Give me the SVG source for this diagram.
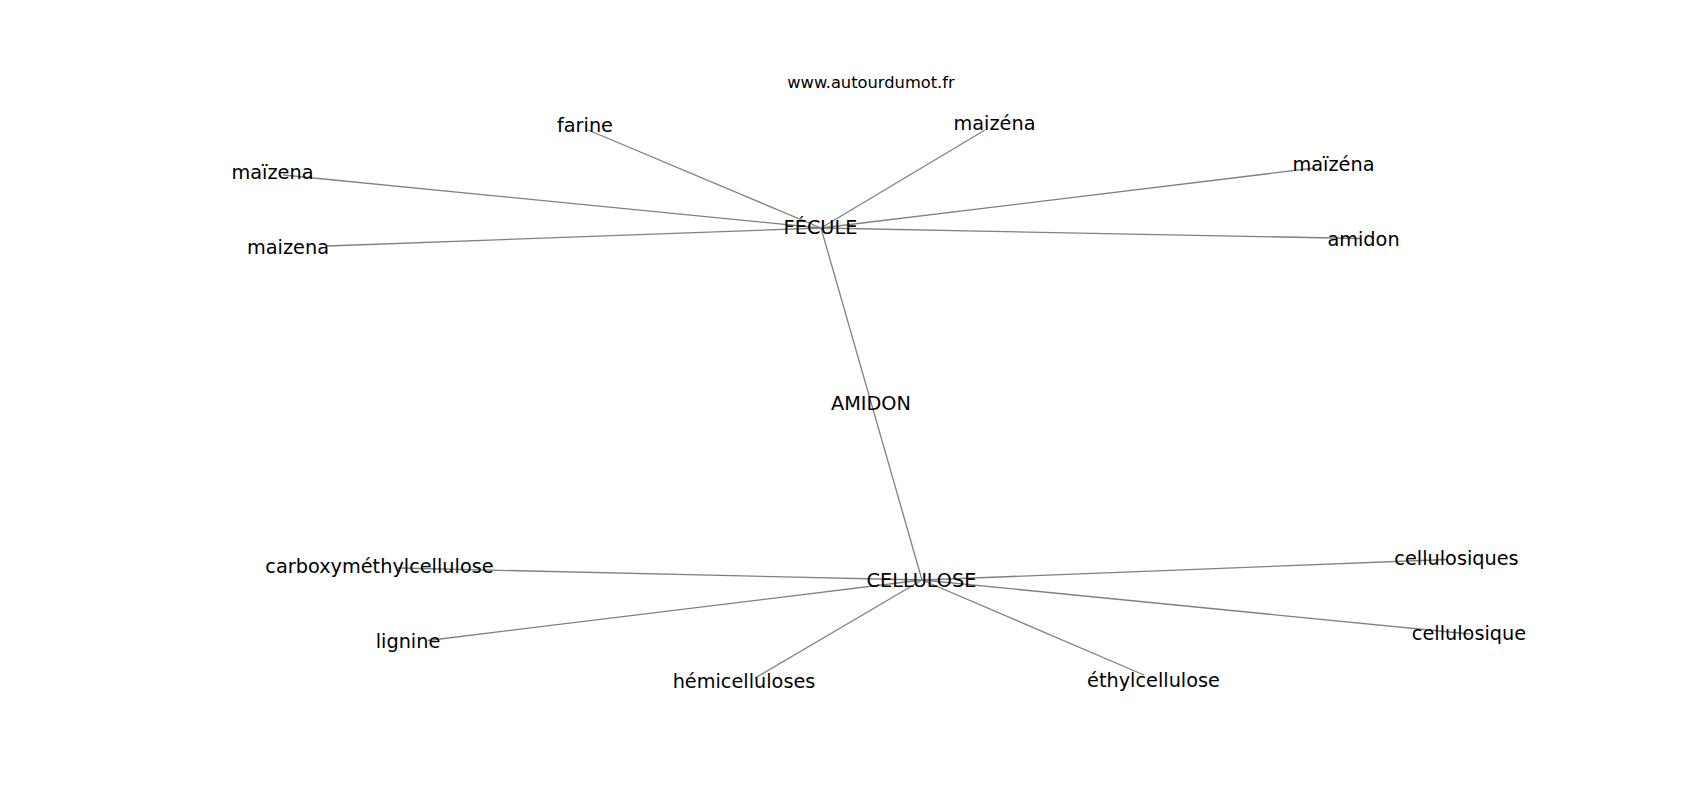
<svg xmlns="http://www.w3.org/2000/svg" width="1700" height="800" viewBox="0 0 1700 800">
<style>
.e{stroke:#808080;stroke-width:1.3;fill:none}
.t{font-family:"DejaVu Sans",Verdana,sans-serif;font-size:19.3px;fill:#000;text-anchor:middle}
.w{font-family:"DejaVu Sans",Verdana,sans-serif;font-size:16.3px;fill:#000;text-anchor:middle}
</style>
<rect width="1700" height="800" fill="#fff"/>
<g id="connectors">
<line class="e" x1="821" y1="228" x2="588" y2="130"/>
<line class="e" x1="821" y1="228" x2="283" y2="175"/>
<line class="e" x1="821" y1="228" x2="327" y2="246"/>
<line class="e" x1="821" y1="228" x2="985" y2="130"/>
<line class="e" x1="821" y1="228" x2="1315" y2="168"/>
<line class="e" x1="821" y1="228" x2="1360" y2="238.5"/>
<line class="e" x1="821" y1="228" x2="922" y2="580"/>
<line class="e" x1="922" y1="580" x2="398" y2="568"/>
<line class="e" x1="922" y1="580" x2="428" y2="640.5"/>
<line class="e" x1="922" y1="580" x2="755" y2="678"/>
<line class="e" x1="922" y1="580" x2="1144" y2="675"/>
<line class="e" x1="922" y1="580" x2="1447" y2="559.5"/>
<line class="e" x1="922" y1="580" x2="1470" y2="634"/>
</g>
<text class="w" x="871" y="88">www.autourdumot.fr</text>
<g id="n-fecule"><text class="t" x="820.5" y="234">FÉCULE</text></g>
<g id="n-amidon-c"><text class="t" x="871" y="410">AMIDON</text></g>
<g id="n-cellulose"><text class="t" x="921.5" y="586.5">CELLULOSE</text></g>
<g id="n-farine"><text class="t" x="585" y="132">farine</text></g>
<g id="n-maizena1"><text class="t" x="272.5" y="178.5">maïzena</text></g>
<g id="n-maizena2"><text class="t" x="288" y="253.5">maizena</text></g>
<g id="n-maizena3"><text class="t" x="994.5" y="130">maizéna</text></g>
<g id="n-maizena4"><text class="t" x="1333.5" y="170.5">maïzéna</text></g>
<g id="n-amidon"><text class="t" x="1363.5" y="245.5">amidon</text></g>
<g id="n-carboxy"><text class="t" x="379.5" y="573">carboxyméthylcellulose</text></g>
<g id="n-lignine"><text class="t" x="408" y="648">lignine</text></g>
<g id="n-hemi"><text class="t" x="744" y="688">hémicelluloses</text></g>
<g id="n-ethyl"><text class="t" x="1153.5" y="686.5">éthylcellulose</text></g>
<g id="n-cellulosiques"><text class="t" x="1456.5" y="565">cellulosiques</text></g>
<g id="n-cellulosique"><text class="t" x="1469" y="640">cellulosique</text></g>
</svg>
